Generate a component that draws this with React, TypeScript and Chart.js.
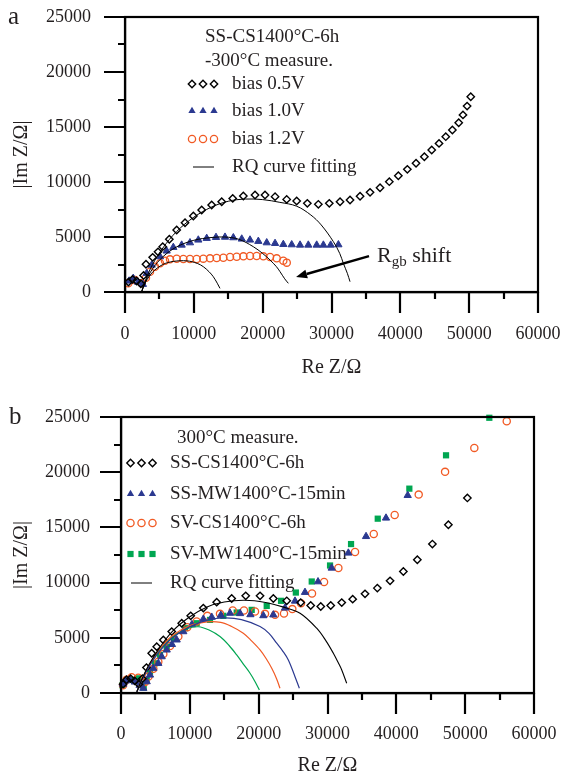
import React, { useEffect, useRef } from 'react';
import { Chart, registerables } from 'chart.js';
Chart.register(...registerables);

const FONT = '"Liberation Serif", "Times New Roman", serif';
const INK = '#231f20';
const BLUE = '#2b3990';
const ORANGE = '#f15a24';
const GREEN = '#00a651';

// ---------- shared axes ----------
const xTickValues = [0, 10000, 20000, 30000, 40000, 50000, 60000];
const yTickValues = [0, 5000, 10000, 15000, 20000, 25000];
const xMinorValues = [5000, 15000, 25000, 35000, 45000, 55000];
const yMinorValues = [2500, 7500, 12500, 17500, 22500];

// ---------- panel a data (Re Z, |Im Z|) ----------
const aBias05: number[][] = [
  [500, 900], [1100, 1150], [1700, 1000], [2300, 750], [2700, 1500], [3050, 2520], [4020, 3150],
  [4800, 3650], [5480, 4120], [6440, 4790], [7510, 5640], [8720, 6300], [9930, 6910], [11140, 7450],
  [12590, 7910], [14050, 8210], [15650, 8510], [17190, 8730], [18890, 8820], [20340, 8820],
  [21800, 8670], [23490, 8420], [24940, 8270], [26490, 8060], [28090, 7970], [29680, 8060],
  [31240, 8210], [32690, 8360], [34150, 8700], [35600, 9060], [37050, 9480], [38400, 10030],
  [39710, 10570], [41020, 11150], [42280, 11700], [43490, 12300], [44560, 12910], [45620, 13510],
  [46600, 14120], [47560, 14730], [48480, 15390], [49100, 16100], [49700, 16900], [50230, 17750],
];
const aBias10: number[][] = [
  [600, 1000], [1200, 1250], [1900, 900], [2600, 700], [3150, 1700], [3880, 2450], [5090, 3210],
  [6050, 3730], [7020, 4060], [8230, 4270], [9440, 4480], [10650, 4730], [11870, 4880], [13220, 4970],
  [14530, 4990], [15740, 4940], [16960, 4820], [18160, 4730], [19370, 4610], [20590, 4480],
  [21800, 4420], [23000, 4330], [24220, 4300], [25430, 4270], [26630, 4270], [27850, 4270],
  [28820, 4270], [29880, 4270], [31000, 4300],
];
const aBias12: number[][] = [
  [480, 790], [1450, 1090], [2420, 790], [3050, 1300], [3630, 1850], [4360, 2300], [5090, 2610],
  [5810, 2850], [6540, 2970], [7510, 3030], [8480, 3000], [9440, 3000], [10410, 3000], [11380, 3030],
  [12350, 3060], [13320, 3090], [14290, 3120], [15260, 3180], [16230, 3210], [17200, 3240],
  [18160, 3270], [19130, 3270], [20100, 3240], [21070, 3180], [22040, 3060], [23000, 2850], [23500, 2670],
];
const aFit05: number[][] = [
  [2400, 0], [3000, 1100], [4000, 2500], [5500, 4000], [7500, 5500], [10000, 6800], [12500, 7700],
  [15000, 8250], [17500, 8450], [20000, 8400], [22500, 8150], [24940, 7800], [27000, 7000],
  [28500, 6100], [30270, 4580], [31200, 3500], [31720, 2610], [32300, 1700], [32690, 940],
];
const aFit10: number[][] = [
  [2400, 0], [3000, 1000], [4000, 2100], [5500, 3200], [7500, 4100], [10000, 4700], [12500, 4950],
  [14500, 5000], [16500, 4800], [18640, 4120], [20000, 3500], [21070, 2910], [22000, 2300],
  [22520, 1850], [23200, 1200], [23730, 790],
];
const aFit12: number[][] = [
  [2400, 0], [3000, 900], [4000, 1800], [5500, 2500], [7000, 2780], [9000, 2830], [10500, 2600],
  [11380, 2300], [12200, 1850], [12830, 1390], [13400, 800], [13800, 330],
];
const aLabels = ['bias 0.5V', 'bias 1.0V', 'bias 1.2V', 'RQ curve fitting'];
const aHeader = ['SS-CS1400°C-6h', '-300°C measure.'];
const aArrowTail = [35450, 3270];
const aArrowHead = [24850, 1360];

// ---------- panel b data ----------
const bSSCS: number[][] = [
  [300, 800], [800, 1200], [1400, 1300], [2000, 1100], [2600, 800], [3100, 1300], [3700, 2300],
  [4460, 3600], [5190, 4200], [6150, 4810], [7370, 5560], [8820, 6320], [10130, 6990], [11960, 7690],
  [13900, 8230], [16080, 8560], [18120, 8800], [20200, 8800], [22130, 8560], [24080, 8350],
  [26110, 8190], [27560, 7920], [29020, 7830], [30470, 7920], [32070, 8190], [33660, 8500],
  [35450, 8980], [37240, 9500], [39090, 10160], [41020, 11010], [43050, 12070], [45240, 13490],
  [47560, 15240], [50320, 17670],
];
const bSSMW: number[][] = [
  [300, 800], [700, 1100], [1300, 1200], [2000, 1000], [2700, 700], [3240, 430], [3730, 1030],
  [4210, 1630], [4690, 2240], [5420, 2690], [5910, 3290], [6640, 3900], [7400, 4400], [8090, 4810],
  [9050, 5560], [10300, 6200], [11960, 6690], [13180, 6870], [14500, 7050], [15840, 7230],
  [17300, 7200], [18800, 7100], [20680, 7010], [22130, 7080], [23830, 7700], [25280, 8330],
  [26730, 9120], [28620, 10080], [30610, 11320], [33030, 12680], [35600, 14180], [38500, 15850],
  [41650, 17900],
];
const bSVCS: number[][] = [
  [300, 700], [800, 1200], [1550, 1420], [2510, 1380], [3100, 900], [3500, 1000], [4000, 1500],
  [4700, 2200], [5420, 2840], [6150, 3540], [7120, 4260], [8330, 5110], [9630, 5960], [10990, 6470],
  [12540, 6990], [14380, 7170], [16230, 7470], [17870, 7470], [19470, 7380], [20920, 7170],
  [22380, 7080], [23680, 7200], [24890, 7600], [26150, 8140], [27750, 9010], [29500, 10050],
  [31580, 11320], [34000, 12770], [36720, 14400], [39760, 16120], [43250, 17970], [47080, 20030],
  [51330, 22200], [56040, 24620],
];
const bSVMW: number[][] = [
  [200, 700], [830, 1180], [1790, 1200], [2510, 1330], [3000, 800], [3300, 500], [3730, 1180],
  [4210, 1930], [4940, 2690], [5670, 3450], [6640, 4200], [7700, 4900], [9300, 5870], [10990, 6320],
  [12930, 6620], [14870, 6990], [16810, 7290], [18990, 7530], [21170, 7890], [23250, 8350],
  [25400, 9100], [27710, 10100], [30370, 11550], [33420, 13490], [37300, 15790], [41890, 18510],
  [47220, 21530], [53510, 24930],
];
const bFitSSCS: number[][] = [
  [2300, 100], [3000, 1200], [4000, 2500], [5500, 4000], [7500, 5600], [10000, 6900], [12500, 7800],
  [15000, 8250], [18000, 8400], [21000, 8200], [23500, 7800], [26010, 7230], [28430, 5870],
  [29800, 4700], [30850, 3600], [31600, 2700], [32070, 2090], [32790, 880],
];
const bFitSSMW: number[][] = [
  [2300, 100], [3000, 1100], [4000, 2300], [5500, 3700], [7500, 5000], [10000, 6000], [12500, 6600],
  [15000, 6800], [17500, 6650], [20200, 6020], [21500, 5400], [22620, 4510], [23500, 3800],
  [24310, 2990], [25280, 1480], [25910, 430],
];
const bFitSVCS: number[][] = [
  [2300, 100], [3000, 1200], [4000, 2400], [5500, 3900], [7500, 5200], [10000, 6100], [12500, 6450],
  [14500, 6400], [16000, 6050], [17770, 5420], [19000, 4700], [20200, 3900], [21100, 3100],
  [21900, 2240], [22600, 1300], [23100, 430],
];
const bFitSVMW: number[][] = [
  [2300, 100], [3000, 1200], [4000, 2400], [5500, 3800], [7500, 5100], [9500, 5800], [11240, 6000],
  [12800, 5700], [14380, 5110], [15700, 4300], [16810, 3450], [17800, 2600], [18750, 1790],
  [19500, 1000], [20100, 270],
];
const bLabels = ['SS-CS1400°C-6h', 'SS-MW1400°C-15min', 'SV-CS1400°C-6h', 'SV-MW1400°C-15min', 'RQ curve fitting'];
const bHeader = ['300°C measure.'];

// ---------- helpers ----------
const pts = (arr: number[][]) => arr.map(([x, y]) => ({ x, y }));

function markerDS(label: string, data: number[][], kind: string, color: string) {
  const base: any = { label, data: pts(data), showLine: false, clip: 8 };
  if (kind === 'diamond') Object.assign(base, { pointStyle: 'rectRot', pointRadius: 3.7, borderWidth: 1.4, borderColor: '#000', backgroundColor: 'rgba(0,0,0,0)' });
  if (kind === 'triangle') Object.assign(base, { pointStyle: 'triangle', pointRadius: 4.2, borderWidth: 1, borderColor: color, backgroundColor: color });
  if (kind === 'circle') Object.assign(base, { pointStyle: 'circle', pointRadius: 3.6, borderWidth: 1.3, borderColor: color, backgroundColor: 'rgba(0,0,0,0)' });
  if (kind === 'square') Object.assign(base, { pointStyle: 'rect', pointRadius: 4.4, borderWidth: 0, borderColor: color, backgroundColor: color });
  return base;
}
function fitDS(data: number[][], color: string, w: number) {
  return { label: 'fit', data: pts(data), showLine: true, pointRadius: 0, borderColor: color, borderWidth: w, tension: 0.35, fill: false, clip: 8 };
}

function drawMarker(ctx: CanvasRenderingContext2D, kind: string, x: number, y: number, color: string) {
  ctx.save();
  ctx.beginPath();
  if (kind === 'diamond') {
    const r = 3.7;
    ctx.moveTo(x, y - r); ctx.lineTo(x + r, y); ctx.lineTo(x, y + r); ctx.lineTo(x - r, y); ctx.closePath();
    ctx.lineWidth = 1.4; ctx.strokeStyle = '#000'; ctx.stroke();
  } else if (kind === 'triangle') {
    const r = 4.2;
    ctx.moveTo(x, y - r); ctx.lineTo(x + r * 0.866, y + r * 0.5); ctx.lineTo(x - r * 0.866, y + r * 0.5); ctx.closePath();
    ctx.fillStyle = color; ctx.fill();
  } else if (kind === 'circle') {
    ctx.arc(x, y, 3.6, 0, Math.PI * 2);
    ctx.lineWidth = 1.3; ctx.strokeStyle = color; ctx.stroke();
  } else if (kind === 'square') {
    ctx.fillStyle = color; ctx.fillRect(x - 3.1, y - 3.1, 6.2, 6.2);
  }
  ctx.restore();
}

function frameAndTicks(chart: any) {
  const { ctx, chartArea: a, scales } = chart;
  ctx.save();
  ctx.strokeStyle = '#000';
  ctx.lineCap = 'butt';
  ctx.lineWidth = 2.2;
  ctx.strokeRect(a.left, a.top, a.right - a.left, a.bottom - a.top);
  ctx.beginPath();
  xTickValues.forEach((v) => {
    const px = Math.round(scales.x.getPixelForValue(v));
    ctx.moveTo(px, a.bottom); ctx.lineTo(px, a.bottom + 21);
  });
  yTickValues.forEach((v) => {
    const py = Math.round(scales.y.getPixelForValue(v));
    ctx.moveTo(a.left, py); ctx.lineTo(a.left - 21, py);
  });
  xMinorValues.forEach((v) => {
    const px = Math.round(scales.x.getPixelForValue(v));
    ctx.moveTo(px, a.bottom); ctx.lineTo(px, a.bottom + 7);
  });
  yMinorValues.forEach((v) => {
    const py = Math.round(scales.y.getPixelForValue(v));
    ctx.moveTo(a.left, py); ctx.lineTo(a.left - 7, py);
  });
  ctx.stroke();
  ctx.restore();
}

function makeScales(xPad: number, yPad: number, yWidth: number, xHeight: number, xTitlePad: number) {
  const tickFont = { family: FONT, size: 18 };
  const titleFont = { family: FONT, size: 20 };
  const grid = { display: false, drawOnChartArea: false, drawTicks: false };
  const border = { display: true, width: 2.2, color: '#000' };
  return {
    x: {
      type: 'linear', min: 0, max: 60000,
      afterBuildTicks: (s: any) => { s.ticks = xTickValues.map((v) => ({ value: v })); },
      ticks: { font: tickFont, color: INK, padding: xPad, maxRotation: 0, autoSkip: false, callback: (v: any) => String(v) },
      grid, border,
      title: { display: true, text: 'Re Z/Ω', font: titleFont, color: INK, padding: { top: 0, bottom: xTitlePad } },
      afterFit: (s: any) => { s.height = xHeight; s.paddingLeft = 0; s.paddingRight = 0; },
    },
    y: {
      type: 'linear', min: 0, max: 25000,
      afterBuildTicks: (s: any) => { s.ticks = yTickValues.map((v) => ({ value: v })); },
      ticks: { font: tickFont, color: INK, padding: yPad, autoSkip: false, callback: (v: any) => String(v) },
      grid, border,
      title: { display: true, text: '|Im Z/Ω|', font: titleFont, color: INK, padding: { top: 10, bottom: 0 } },
      afterFit: (s: any) => { s.width = yWidth; s.paddingTop = 0; s.paddingBottom = 0; },
    },
  };
}

// ---------- configs ----------
function configA(): any {
  const kinds = ['diamond', 'triangle', 'circle', 'line'];
  const colors = ['#000', BLUE, ORANGE, '#000'];
  const plugin = {
    id: 'decorA',
    beforeDatasetsDraw(chart: any) {
      const { ctx } = chart;
      ctx.save();
      ctx.fillStyle = INK;
      ctx.textBaseline = 'middle';
      ctx.textAlign = 'left';
      ctx.font = `19px ${FONT}`;
      ctx.fillText(aHeader[0], 205, 37);
      ctx.fillText(aHeader[1], 205, 61);
      const rows = [84, 111, 139, 167];
      aLabels.forEach((lab, i) => {
        const y = rows[i];
        if (kinds[i] === 'line') {
          ctx.save(); ctx.strokeStyle = '#000'; ctx.lineWidth = 1;
          ctx.beginPath(); ctx.moveTo(193, y); ctx.lineTo(214, y); ctx.stroke(); ctx.restore();
        } else {
          [192, 203, 214].forEach((mx) => drawMarker(ctx, kinds[i], mx, y, colors[i]));
        }
        ctx.fillStyle = INK;
        ctx.fillText(lab, 232, y);
      });
      ctx.font = `25px ${FONT}`;
      ctx.fillText('a', 8, 17);
      ctx.restore();
    },
    afterDraw(chart: any) {
      frameAndTicks(chart);
      const { ctx, scales } = chart;
      const tx = scales.x.getPixelForValue(aArrowTail[0]);
      const ty = scales.y.getPixelForValue(aArrowTail[1]);
      const hx = scales.x.getPixelForValue(aArrowHead[0]);
      const hy = scales.y.getPixelForValue(aArrowHead[1]);
      ctx.save();
      ctx.strokeStyle = '#000'; ctx.fillStyle = '#000'; ctx.lineWidth = 2.4;
      const ang = Math.atan2(hy - ty, hx - tx);
      const bx = hx - Math.cos(ang) * 11, by = hy - Math.sin(ang) * 11;
      ctx.beginPath(); ctx.moveTo(tx, ty); ctx.lineTo(bx, by); ctx.stroke();
      ctx.beginPath();
      ctx.moveTo(hx, hy);
      ctx.lineTo(bx + Math.cos(ang + Math.PI / 2) * 4.5, by + Math.sin(ang + Math.PI / 2) * 4.5);
      ctx.lineTo(bx - Math.cos(ang + Math.PI / 2) * 4.5, by - Math.sin(ang + Math.PI / 2) * 4.5);
      ctx.closePath(); ctx.fill();
      const lx = tx + 8, ly = ty + 6;
      ctx.fillStyle = INK;
      ctx.textBaseline = 'alphabetic';
      ctx.textAlign = 'left';
      ctx.font = `22px ${FONT}`;
      ctx.fillText('R', lx, ly);
      const w1 = ctx.measureText('R').width;
      ctx.font = `15px ${FONT}`;
      ctx.fillText('gb', lx + w1, ly + 4);
      const w2 = ctx.measureText('gb').width;
      ctx.font = `22px ${FONT}`;
      ctx.fillText(' shift', lx + w1 + w2, ly);
      ctx.restore();
    },
  };
  return {
    type: 'scatter',
    data: {
      datasets: [
        fitDS(aFit05, '#000', 1),
        fitDS(aFit10, '#000', 1),
        fitDS(aFit12, '#000', 1),
        markerDS(aLabels[0], aBias05, 'diamond', '#000'),
        markerDS(aLabels[1], aBias10, 'triangle', BLUE),
        markerDS(aLabels[2], aBias12, 'circle', ORANGE),
      ],
    },
    options: {
      responsive: false, animation: false, devicePixelRatio: 1,
      layout: { padding: { left: 0, right: 27, top: 17, bottom: 0 } },
      plugins: { legend: { display: false }, tooltip: { enabled: false } },
      scales: makeScales(31, 34, 125, 97, 9),
    },
    plugins: [plugin],
  };
}

function configB(): any {
  const kinds = ['diamond', 'triangle', 'circle', 'square', 'line'];
  const colors = ['#000', BLUE, ORANGE, GREEN, '#000'];
  const plugin = {
    id: 'decorB',
    beforeDatasetsDraw(chart: any) {
      const { ctx } = chart;
      ctx.save();
      ctx.fillStyle = INK;
      ctx.textBaseline = 'middle';
      ctx.textAlign = 'left';
      ctx.font = `19px ${FONT}`;
      ctx.fillText(bHeader[0], 177, 49);
      const rows = [74, 105, 134, 165, 194];
      bLabels.forEach((lab, i) => {
        const y = rows[i];
        if (kinds[i] === 'line') {
          ctx.save(); ctx.strokeStyle = '#000'; ctx.lineWidth = 1;
          ctx.beginPath(); ctx.moveTo(131, y); ctx.lineTo(152, y); ctx.stroke(); ctx.restore();
        } else {
          [130.5, 141.5, 152.5].forEach((mx) => drawMarker(ctx, kinds[i], mx, y, colors[i]));
        }
        ctx.fillStyle = INK;
        ctx.fillText(lab, 170, y);
      });
      ctx.font = `25px ${FONT}`;
      ctx.fillText('b', 9, 28);
      ctx.restore();
    },
    afterDraw(chart: any) {
      frameAndTicks(chart);
    },
  };
  return {
    type: 'scatter',
    data: {
      datasets: [
        fitDS(bFitSSCS, '#000', 1.1),
        fitDS(bFitSSMW, BLUE, 1.2),
        fitDS(bFitSVCS, ORANGE, 1.2),
        fitDS(bFitSVMW, GREEN, 1.2),
        markerDS(bLabels[0], bSSCS, 'diamond', '#000'),
        markerDS(bLabels[1], bSSMW, 'triangle', BLUE),
        markerDS(bLabels[2], bSVCS, 'circle', ORANGE),
        markerDS(bLabels[3], bSVMW, 'square', GREEN),
      ],
    },
    options: {
      responsive: false, animation: false, devicePixelRatio: 1,
      layout: { padding: { left: 0, right: 31, top: 28, bottom: 0 } },
      plugins: { legend: { display: false }, tooltip: { enabled: false } },
      scales: makeScales(30, 31, 121, 85, 0),
    },
    plugins: [plugin],
  };
}

export default function App() {
  const r1 = useRef<HTMLCanvasElement>(null);
  const r2 = useRef<HTMLCanvasElement>(null);
  useEffect(() => {
    const c1 = new Chart(r1.current as HTMLCanvasElement, configA());
    const c2 = new Chart(r2.current as HTMLCanvasElement, configB());
    return () => { c1.destroy(); c2.destroy(); };
  }, []);
  return (
    <div style={{ position: 'fixed', left: 0, top: 0, width: 565, height: 778, background: '#fff' }}>
      <canvas ref={r1} width={565} height={389} style={{ position: 'absolute', left: 0, top: 0, width: 565, height: 389 }} />
      <canvas ref={r2} width={565} height={389} style={{ position: 'absolute', left: 0, top: 389, width: 565, height: 389 }} />
    </div>
  );
}
